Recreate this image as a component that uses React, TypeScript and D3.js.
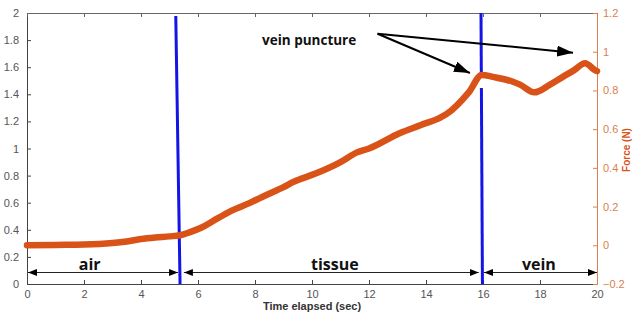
import React, { useEffect, useRef } from 'react';
import * as d3 from 'd3';

// force trace (right axis, N)
const timeSec = [0, 1, 2, 3, 3.5, 4, 4.5, 5, 5.37, 5.7, 6.07, 6.7, 7.2, 7.8, 8.4, 9, 9.33, 10.17, 11, 11.58, 12, 13.09, 13.8, 14.5, 14.74, 15.5, 15.96, 16.35, 17.05, 17.3, 17.8, 18.35, 18.8, 19.2, 19.58, 19.93, 20];
const forceN = [0, 0.002, 0.004, 0.012, 0.02, 0.032, 0.04, 0.046, 0.052, 0.067, 0.088, 0.14, 0.18, 0.218, 0.26, 0.3, 0.326, 0.373, 0.43, 0.48, 0.5, 0.58, 0.62, 0.66, 0.68, 0.79, 0.88, 0.87, 0.845, 0.83, 0.79, 0.83, 0.87, 0.905, 0.94, 0.905, 0.9];

const leftTicks = [0, 0.2, 0.4, 0.6, 0.8, 1, 1.2, 1.4, 1.6, 1.8, 2];
const rightTicks = [-0.2, 0, 0.2, 0.4, 0.6, 0.8, 1, 1.2];
const xTicks = [0, 2, 4, 6, 8, 10, 12, 14, 16, 18, 20];

// phase boundaries (blue lines), [time at top, time at bottom]
const boundaries = [[5.22, 5.37], [15.93, 15.98]];
const phases = [
  { label: 'air', from: 0, to: 5.3, labelAt: 2.2 },
  { label: 'tissue', from: 5.47, to: 15.85, labelAt: 10.8 },
  { label: 'vein', from: 16.0, to: 20, labelAt: 17.96 },
];
const noteText = 'vein puncture';
const noteFrom = [12.3, 1.093];
const noteTargets = [[15.54, 0.89], [19.16, 0.995]];

const W = 644, H = 316;
const M = { left: 27, right: 597, top: 13, bottom: 284 };
const ORANGE = '#d95319';
const AXIS_OR = '#d8814f';

export default function App() {
  const ref = useRef<SVGSVGElement>(null);

  useEffect(() => {
    document.body.style.margin = '0';
    const svg = d3.select(ref.current);
    svg.selectAll('*').remove();

    const x = d3.scaleLinear().domain([0, 20]).range([M.left, M.right]);
    const yL = d3.scaleLinear().domain([0, 2]).range([M.bottom, M.top]);
    const yR = d3.scaleLinear().domain([-0.2, 1.2]).range([M.bottom, M.top]);
    const font = 'Liberation Sans, Arial, sans-serif';

    const defs = svg.append('defs');
    const mk = (id: string, w: number, h: number) => {
      defs.append('marker').attr('id', id).attr('viewBox', `0 0 ${w} ${h}`)
        .attr('refX', w).attr('refY', h / 2).attr('markerWidth', w).attr('markerHeight', h)
        .attr('markerUnits', 'userSpaceOnUse').attr('orient', 'auto-start-reverse')
        .append('path').attr('d', `M0,0L${w},${h / 2}L0,${h}Z`).attr('fill', '#000');
    };
    mk('head', 9, 7);
    mk('bighead', 16, 11);

    // axes (inward ticks)
    const left = svg.append('g').attr('transform', `translate(${M.left},0)`)
      .call(d3.axisLeft(yL).tickValues(leftTicks).tickSizeInner(-4).tickSizeOuter(0).tickPadding(8).tickFormat(d3.format('')));
    left.select('.domain').attr('stroke', '#444');
    left.selectAll('line').attr('stroke', '#444');
    left.selectAll('text').attr('fill', '#555').attr('font-size', 11).attr('font-family', font);

    const bottom = svg.append('g').attr('transform', `translate(0,${M.bottom})`)
      .call(d3.axisBottom(x).tickValues(xTicks).tickSizeInner(-4).tickSizeOuter(0).tickPadding(6));
    bottom.select('.domain').attr('stroke', '#444');
    bottom.selectAll('line').attr('stroke', '#444');
    bottom.selectAll('text').attr('fill', '#555').attr('font-size', 11).attr('font-family', font);

    const top = svg.append('g').attr('transform', `translate(0,${M.top})`)
      .call(d3.axisTop(x).tickValues(xTicks).tickSizeInner(-4).tickSizeOuter(0).tickFormat(() => ''));
    top.select('.domain').attr('stroke', '#666');
    top.selectAll('line').attr('stroke', '#666');

    const right = svg.append('g').attr('transform', `translate(${M.right},0)`)
      .call(d3.axisRight(yR).tickValues(rightTicks).tickSizeInner(-4).tickSizeOuter(0).tickPadding(6).tickFormat(d3.format('')));
    right.select('.domain').attr('stroke', AXIS_OR);
    right.selectAll('line').attr('stroke', AXIS_OR);
    right.selectAll('text').attr('fill', AXIS_OR).attr('font-size', 11).attr('font-family', font);

    svg.append('text').attr('x', (M.left + M.right) / 2).attr('y', 310)
      .attr('text-anchor', 'middle').attr('font-size', 11).attr('font-weight', 'bold')
      .attr('font-family', font).attr('fill', '#333').text('Time elapsed (sec)');
    svg.append('text').attr('transform', `translate(630,150) rotate(-90)`)
      .attr('text-anchor', 'middle').attr('font-size', 10).attr('font-weight', 'bold')
      .attr('font-family', font).attr('fill', ORANGE).text('Force (N)');

    // blue phase boundaries, broken just below the force peak
    boundaries.forEach(([t0, t1], i) => {
      const xa = x(t0), xb = x(t1);
      const ytop = i === 0 ? 16 : M.top;
      const segs = i === 0 ? [[ytop, M.bottom]] : [[ytop, 78], [88, M.bottom]];
      segs.forEach(([ya, yb]) => {
        const f = (yy: number) => xa + (xb - xa) * (yy - ytop) / (M.bottom - ytop);
        svg.append('line').attr('x1', f(ya)).attr('y1', ya).attr('x2', f(yb)).attr('y2', yb)
          .attr('stroke', '#1414e6').attr('stroke-width', 3);
      });
    });

    // force trace
    const line = d3.line<number>().x((_, i) => x(timeSec[i])).y(d => yR(d)).curve(d3.curveMonotoneX);
    svg.append('path').datum(forceN).attr('d', line).attr('fill', 'none')
      .attr('stroke', ORANGE).attr('stroke-width', 6.5).attr('stroke-linejoin', 'round').attr('stroke-linecap', 'round');

    // phase double arrows
    const ay = 272.5;
    phases.forEach(p => {
      svg.append('line').attr('x1', x(p.from) + 1).attr('x2', x(p.to)).attr('y1', ay).attr('y2', ay)
        .attr('stroke', '#222').attr('stroke-width', 1)
        .attr('marker-start', 'url(#head)').attr('marker-end', 'url(#head)');
      svg.append('text').attr('x', x(p.labelAt)).attr('y', 270).attr('text-anchor', 'middle')
        .attr('font-size', 16).attr('font-weight', 'bold').attr('font-family', 'Open Sans, sans-serif')
        .attr('fill', '#111').text(p.label);
    });

    // annotation
    svg.append('text').attr('x', 262).attr('y', 45).attr('font-size', 13.5).attr('font-weight', 'bold')
      .attr('font-family', 'Open Sans, sans-serif').attr('fill', '#111').text(noteText);
    noteTargets.forEach(([t, f]) => {
      svg.append('line').attr('x1', x(noteFrom[0])).attr('y1', yR(noteFrom[1]))
        .attr('x2', x(t)).attr('y2', yR(f)).attr('stroke', '#000').attr('stroke-width', 2)
        .attr('marker-end', 'url(#bighead)');
    });
  }, []);

  return <svg ref={ref} width={W} height={H} style={{ display: 'block', background: '#fff' }} />;
}
